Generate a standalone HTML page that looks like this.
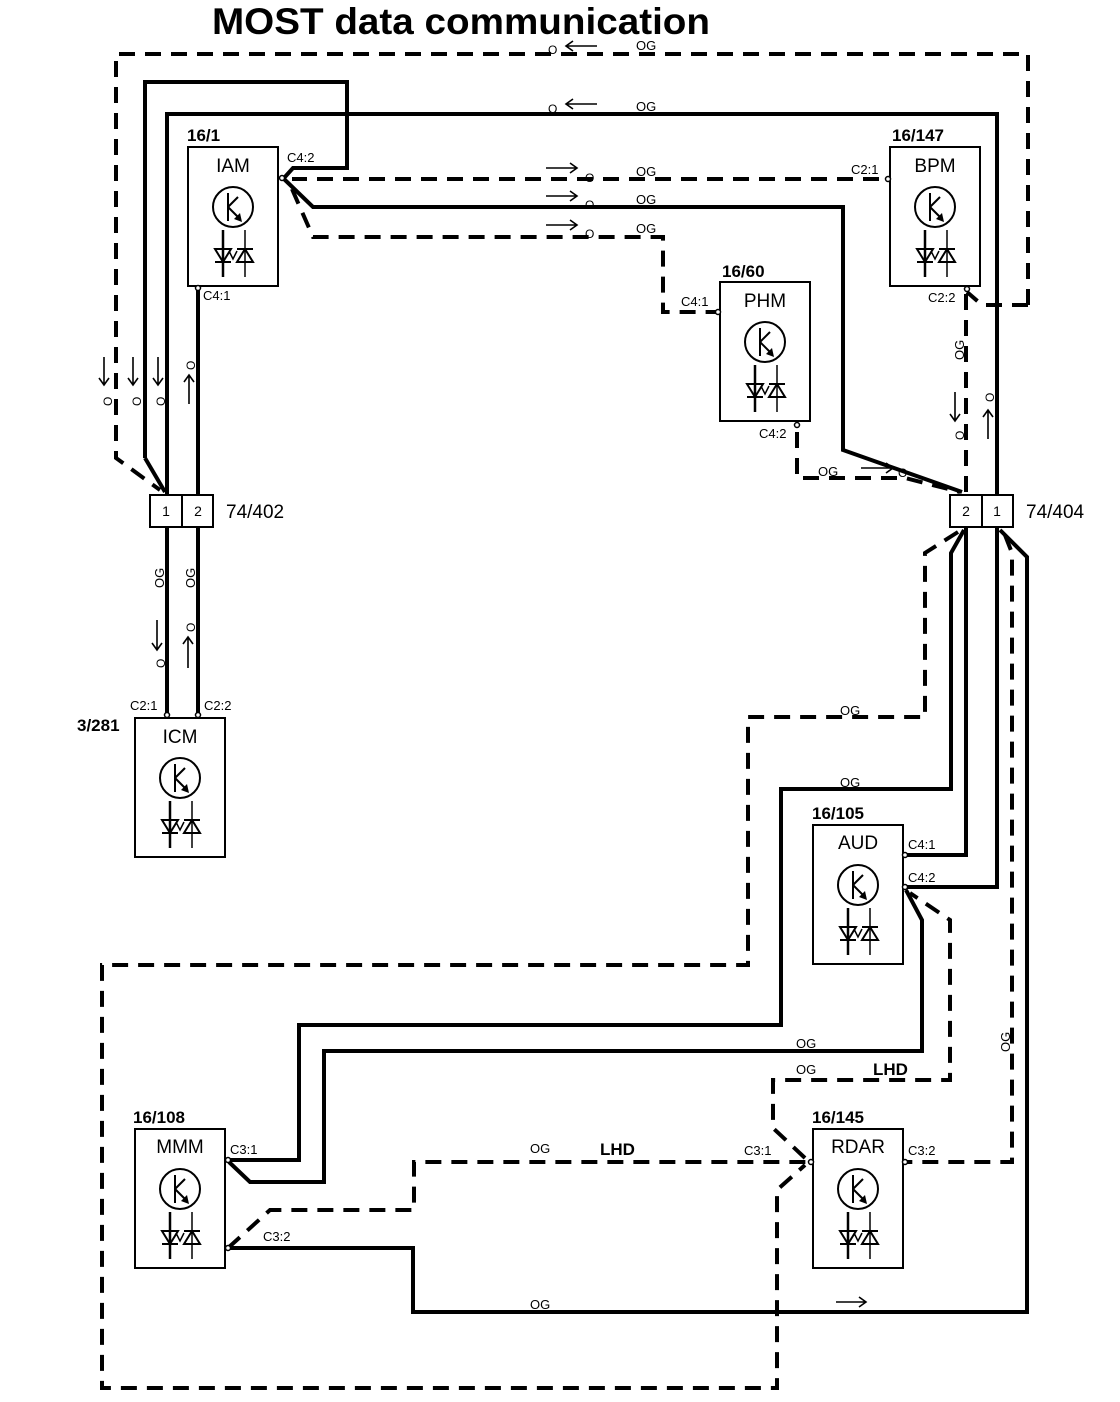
<!DOCTYPE html>
<html><head><meta charset="utf-8"><style>
html,body{margin:0;padding:0;background:#fff;}
svg{display:block;font-family:"Liberation Sans",sans-serif;}
</style></head><body>
<svg width="1120" height="1402" viewBox="0 0 1120 1402" xmlns="http://www.w3.org/2000/svg">
<defs>
<g id="mod">
<rect x="0" y="0" width="90" height="139" fill="#fff" stroke="#000" stroke-width="2"/>
<circle cx="45" cy="60" r="20" fill="none" stroke="#000" stroke-width="2"/>
<line x1="40" y1="46" x2="40" y2="74" stroke="#000" stroke-width="2"/>
<line x1="40" y1="60" x2="50" y2="50" stroke="#000" stroke-width="2"/>
<line x1="40" y1="60" x2="52" y2="72" stroke="#000" stroke-width="2"/>
<polygon points="54,75 46,72 52,66" fill="#000"/>
<line x1="35" y1="83" x2="35" y2="130" stroke="#000" stroke-width="2.5"/>
<line x1="57" y1="83" x2="57" y2="130" stroke="#000" stroke-width="1.5"/>
<polygon points="27,102 43,102 35,115" fill="none" stroke="#000" stroke-width="2"/>
<line x1="27" y1="115" x2="43" y2="115" stroke="#000" stroke-width="2"/>
<polygon points="49,115 65,115 57,102" fill="none" stroke="#000" stroke-width="2"/>
<line x1="49" y1="102" x2="65" y2="102" stroke="#000" stroke-width="2"/>
<polyline points="41,104 45,112 49,104" fill="none" stroke="#000" stroke-width="1.5"/>
</g>
</defs>
<text x="212" y="34" font-size="37" font-weight="bold" textLength="498" lengthAdjust="spacingAndGlyphs">MOST data communication</text>

<g fill="none" stroke="#000" stroke-width="4" stroke-linejoin="miter">
<g stroke-dasharray="16,10">
<polyline points="1028,305 1028,54 116,54 116,458 160,490"/>
<polyline points="1028,305 982,305 967,292"/>
<polyline points="905,179 292,179"/>
<polyline points="292,189 313,237 663,237 663,312 718,312"/>
<polyline points="797,432 797,478 905,478 960,492"/>
<polyline points="966,294 966,493"/>
<polyline points="958,532 925,553 925,717 748,717 748,965 102,965 102,1388 777,1388 777,1190 805,1165"/>
<polyline points="228,1248 270,1210 414,1210 414,1162 806,1162"/>
<polyline points="805,1158 773,1128 773,1080 950,1080 950,920 910,893"/>
<polyline points="1005,535 1012,553 1012,1162 905,1162"/>
</g>
<polyline points="145,458 145,82 347,82 347,168 293,168 284,178"/>
<polyline points="145,458 165,492"/>
<polyline points="167,494 167,114 997,114 997,495"/>
<polyline points="198,290 198,494"/>
<polyline points="167,527 167,713"/>
<polyline points="198,527 198,713"/>
<polyline points="284,179 313,207 843,207 843,450 962,492"/>
<polyline points="228,1160 299,1160 299,1025 781,1025 781,789 951,789 951,553 964,530"/>
<polyline points="966,528 966,855 906,855"/>
<polyline points="997,528 997,887 906,887"/>
<polyline points="906,890 922,920 922,1051 324,1051 324,1182 250,1182 229,1162"/>
<polyline points="1000,530 1027,557 1027,1312 413,1312 413,1248 229,1248"/>
</g>

<use href="#mod" x="188" y="147"/>
<use href="#mod" x="890" y="147"/>
<use href="#mod" x="720" y="282"/>
<use href="#mod" x="135" y="718"/>
<use href="#mod" x="813" y="825"/>
<use href="#mod" x="135" y="1129"/>
<use href="#mod" x="813" y="1129"/>
<g font-size="19" text-anchor="middle">
<text x="233" y="172">IAM</text>
<text x="935" y="172">BPM</text>
<text x="765" y="307">PHM</text>
<text x="180" y="743">ICM</text>
<text x="858" y="849">AUD</text>
<text x="180" y="1153">MMM</text>
<text x="858" y="1153">RDAR</text>
</g>
<g font-size="17" font-weight="bold">
<text x="187" y="141">16/1</text>
<text x="892" y="141">16/147</text>
<text x="722" y="277">16/60</text>
<text x="77" y="731">3/281</text>
<text x="812" y="819">16/105</text>
<text x="133" y="1123">16/108</text>
<text x="812" y="1123">16/145</text>
<text x="600" y="1155">LHD</text>
<text x="873" y="1075">LHD</text>
</g>
<g fill="#fff" stroke="#000" stroke-width="1.5">
<circle cx="282" cy="178" r="2.5"/><circle cx="198" cy="288" r="2.5"/>
<circle cx="888" cy="179" r="2.5"/><circle cx="967" cy="289" r="2.5"/>
<circle cx="718" cy="312" r="2.5"/><circle cx="797" cy="425" r="2.5"/>
<circle cx="167" cy="715" r="2.5"/><circle cx="198" cy="715" r="2.5"/>
<circle cx="905" cy="855" r="2.5"/><circle cx="905" cy="887" r="2.5"/>
<circle cx="228" cy="1160" r="2.5"/><circle cx="228" cy="1248" r="2.5"/>
<circle cx="811" cy="1162" r="2.5"/><circle cx="905" cy="1162" r="2.5"/>
</g>
<g fill="#fff" stroke="#000" stroke-width="2">
<rect x="150" y="495" width="63" height="32"/><line x1="182" y1="495" x2="182" y2="527"/>
<rect x="950" y="495" width="63" height="32"/><line x1="982" y1="495" x2="982" y2="527"/>
</g>
<g font-size="14" text-anchor="middle">
<text x="166" y="516">1</text><text x="198" y="516">2</text>
<text x="966" y="516">2</text><text x="997" y="516">1</text>
</g>
<g font-size="19">
<text x="226" y="518">74/402</text><text x="1026" y="518">74/404</text>
</g>
<g font-size="13">
<text x="287" y="162">C4:2</text><text x="203" y="300">C4:1</text>
<text x="851" y="174">C2:1</text><text x="928" y="302">C2:2</text>
<text x="681" y="306">C4:1</text><text x="759" y="438">C4:2</text>
<text x="130" y="710">C2:1</text><text x="204" y="710">C2:2</text>
<text x="908" y="849">C4:1</text><text x="908" y="882">C4:2</text>
<text x="230" y="1154">C3:1</text><text x="263" y="1241">C3:2</text>
<text x="744" y="1155">C3:1</text><text x="908" y="1155">C3:2</text>
</g>
<g font-size="13">
<text x="636" y="50">OG</text><text x="636" y="111">OG</text>
<text x="636" y="176">OG</text><text x="636" y="204">OG</text><text x="636" y="233">OG</text>
<text x="818" y="476">OG</text>
<text x="840" y="715">OG</text><text x="840" y="787">OG</text>
<text x="796" y="1048">OG</text><text x="796" y="1074">OG</text>
<text x="530" y="1153">OG</text><text x="530" y="1309">OG</text>
</g>
<g font-size="12">
<text x="548" y="54">O</text><text x="548" y="113">O</text>
<text x="585" y="182">O</text><text x="585" y="209">O</text><text x="585" y="238">O</text>
<text x="898" y="477">O</text>
</g>
<g font-size="13">
<text transform="translate(164,588) rotate(-90)">OG</text>
<text transform="translate(195,588) rotate(-90)">OG</text>
<text transform="translate(964,360) rotate(-90)">OG</text>
<text transform="translate(1010,1052) rotate(-90)">OG</text>
</g>
<g font-size="12">
<text transform="translate(112,406) rotate(-90)">O</text>
<text transform="translate(141,406) rotate(-90)">O</text>
<text transform="translate(165,406) rotate(-90)">O</text>
<text transform="translate(195,370) rotate(-90)">O</text>
<text transform="translate(165,668) rotate(-90)">O</text>
<text transform="translate(195,632) rotate(-90)">O</text>
<text transform="translate(964,440) rotate(-90)">O</text>
<text transform="translate(994,402) rotate(-90)">O</text>
</g>
<g fill="none" stroke="#000" stroke-width="1.6">
<path d="M597,46 H566 M573,41 L566,46 L573,51"/>
<path d="M597,104 H566 M573,99 L566,104 L573,109"/>
<path d="M546,168 H577 M570,163 L577,168 L570,173"/>
<path d="M546,196 H577 M570,191 L577,196 L570,201"/>
<path d="M546,225 H577 M570,220 L577,225 L570,230"/>
<path d="M861,468 H893 M886,463 L893,468 L886,473"/>
<path d="M836,1302 H866 M859,1297 L866,1302 L859,1307"/>
<path d="M104,357 V385 M99,378 L104,385 L109,378"/>
<path d="M133,357 V385 M128,378 L133,385 L138,378"/>
<path d="M158,357 V385 M153,378 L158,385 L163,378"/>
<path d="M189,404 V375 M184,382 L189,375 L194,382"/>
<path d="M157,620 V650 M152,643 L157,650 L162,643"/>
<path d="M188,668 V637 M183,644 L188,637 L193,644"/>
<path d="M955,392 V421 M950,414 L955,421 L960,414"/>
<path d="M988,439 V410 M983,417 L988,410 L993,417"/>
</g>
</svg>
</body></html>
